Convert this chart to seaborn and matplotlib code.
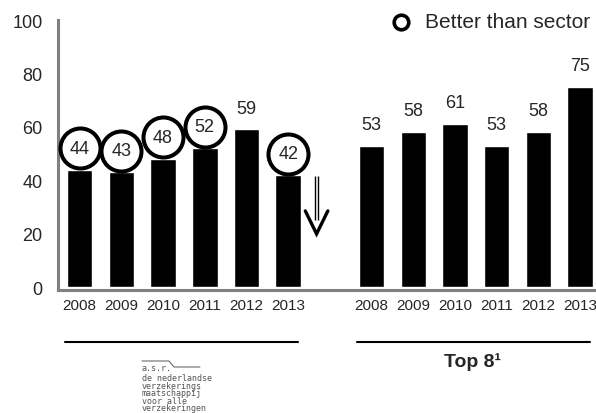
import matplotlib
matplotlib.use("Agg")
import matplotlib.pyplot as plt
import matplotlib.transforms as mtransforms
from matplotlib.lines import Line2D
import pandas as pd
import seaborn as sns

# Scores per year for a.s.r. and the top 8 insurers
years = ["2008", "2009", "2010", "2011", "2012", "2013"]
asr_scores = [44, 43, 48, 52, 59, 42]
top8_scores = [53, 58, 61, 53, 58, 75]
asr_better = [True, True, True, True, False, True]
top8_better = [False, False, False, False, False, False]
y_ticks = [0, 20, 40, 60, 80, 100]
legend_label = "Better than sector"
top8_title = "Top 8\u00b9"
logo_name = "a.s.r."
logo_lines = ["de nederlandse", "verzekerings", "maatschappij",
              "voor alle", "verzekeringen"]

sns.set_style("white")
plt.rcParams["font.family"] = ["Liberation Sans", "DejaVu Sans"]

asr_pos = list(range(0, 6))
top8_pos = list(range(7, 13))
df = pd.DataFrame({
    "pos": asr_pos + top8_pos,
    "score": asr_scores + top8_scores,
    "better": asr_better + top8_better,
    "year": years + years,
})

W, H = 596, 414
fig = plt.figure(figsize=(W / 100, H / 100), dpi=100)
ax = fig.add_axes([58 / W, 123.3 / H, 1 - 58 / W, (290.7 - 21) / H])

sns.barplot(data=df, x="pos", y="score", native_scale=True, color="black",
            saturation=1, width=0.61, errorbar=None, ax=ax, zorder=2)

ax.set_xlim(-0.52, 12.38)
ax.set_ylim(-1, 100)
ax.set_yticks(y_ticks)
ax.set_yticklabels([str(t) for t in y_ticks], fontsize=13)
ax.set_xticks(df["pos"])
ax.set_xticklabels(df["year"], fontsize=11)
ax.tick_params(axis="y", length=0, pad=11)
ax.tick_params(axis="x", length=0, pad=6)
ax.set_xlabel("")
ax.set_ylabel("")
for side in ("top", "right"):
    ax.spines[side].set_visible(False)
for side in ("left", "bottom"):
    ax.spines[side].set_color("#808080")
    ax.spines[side].set_linewidth(2.2)

# Value labels, circled where the score beats the sector
label_offset = 8
for _, row in df.iterrows():
    ly = row["score"] + label_offset
    if row["better"]:
        ax.scatter([row["pos"]], [ly], s=830, facecolor="white",
                   edgecolor="black", linewidth=2.9, zorder=3, clip_on=False)
    ax.text(row["pos"], ly, str(row["score"]), ha="center", va="center",
            fontsize=13, zorder=4)

# Downward arrow after the last a.s.r. bar
arrow_x = asr_pos[-1] + 0.68
for dx in (-0.045, 0.045):
    ax.plot([arrow_x + dx, arrow_x + dx], [41.5, 25.0], color="black", lw=1.0,
            solid_capstyle="butt")
ax.plot([arrow_x - 0.27, arrow_x, arrow_x + 0.27], [28.5, 19.9, 28.5],
        color="black", lw=2.4, solid_joinstyle="miter")

# Legend entry
fig.add_artist(Line2D([401 / W], [391 / H], marker="o", markersize=10.5,
                      markerfacecolor="white", markeredgecolor="black",
                      markeredgewidth=2.6, linestyle="none",
                      transform=fig.transFigure))
fig.text(425 / W, 391 / H, legend_label, fontsize=15, va="center", ha="left")

# Group rules under the year labels
blend = mtransforms.blended_transform_factory(ax.transData, fig.transFigure)
rule_y = (H - 343) / H
for grp in (asr_pos, top8_pos):
    fig.add_artist(Line2D([grp[0] - 0.36, grp[-1] + 0.23], [rule_y, rule_y],
                          color="black", lw=1.5, transform=blend))

fig.text(sum(top8_pos) / len(top8_pos) - 0.07, (H - 362) / H, top8_title,
         fontsize=14, fontweight="bold", ha="center", va="center",
         transform=blend)

# a.s.r. logo
logo_color = "#555555"
logo_x = 142 / W
fig.text(logo_x, (H - 369) / H, logo_name, fontsize=6,
         family="DejaVu Sans Mono", color=logo_color, ha="left", va="center")
fig.text(logo_x, (H - 374) / H, "\n".join(logo_lines), fontsize=6,
         family="DejaVu Sans Mono", color=logo_color, ha="left", va="top",
         linespacing=0.8)
fig.add_artist(Line2D([142 / W, 169 / W, 174 / W, 200 / W],
                      [(H - 362) / H, (H - 362) / H, (H - 368) / H, (H - 368) / H],
                      color=logo_color, lw=0.7, transform=fig.transFigure))

fig.savefig("out.png", dpi=100)
